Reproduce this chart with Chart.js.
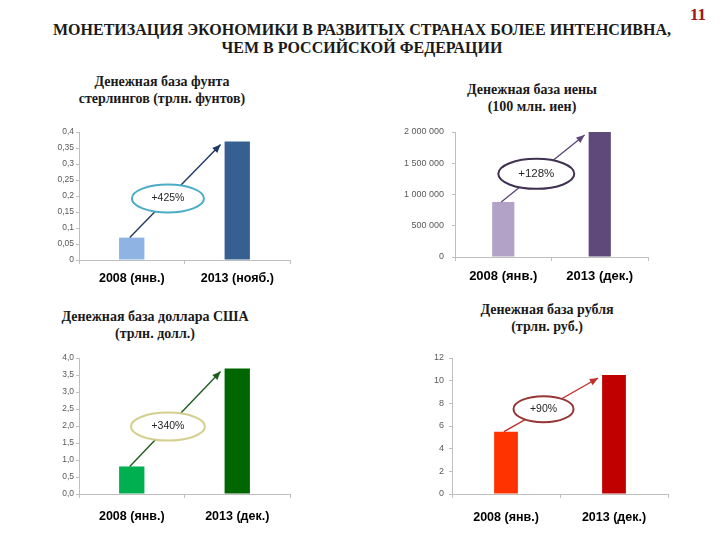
<!DOCTYPE html>
<html>
<head>
<meta charset="utf-8">
<script src="https://cdn.jsdelivr.net/npm/chart.js@4.4.1/dist/chart.umd.min.js"></script>
<style>
  body { margin: 0; background: #fff; }
  #page { position: relative; width: 720px; height: 540px; overflow: hidden; font-family: "Liberation Serif", "Times New Roman", serif; }
  .title { position: absolute; text-align: center; font-weight: bold; color: #1a1a1a; font-size: 14px; line-height: 17px; white-space: nowrap; }
  #head { left: 0; width: 724px; top: 21px; font-size: 16px; line-height: 18px; }
  #num { position: absolute; left: 690px; top: 5px; font-weight: bold; font-size: 17px; color: #a01818; }
  canvas { position: absolute; }
</style>
</head>
<body>
<div id="page">
  <div id="num">11</div>
  <div class="title" id="head">МОНЕТИЗАЦИЯ ЭКОНОМИКИ В РАЗВИТЫХ СТРАНАХ БОЛЕЕ ИНТЕНСИВНА,<br>ЧЕМ В РОССИЙСКОЙ ФЕДЕРАЦИИ</div>

  <div class="title" style="left:62px;width:200px;top:73px">Денежная база фунта<br>стерлингов (трлн. фунтов)</div>
  <div class="title" style="left:432px;width:200px;top:81px">Денежная база иены<br>(100 млн. иен)</div>
  <div class="title" style="left:55px;width:200px;top:308px">Денежная база доллара США<br>(трлн. долл.)</div>
  <div class="title" style="left:447px;width:200px;top:301px">Денежная база рубля<br>(трлн. руб.)</div>

  <canvas id="gbp" style="left:39px;top:110px" width="261" height="181"></canvas>
  <canvas id="jpy" style="left:395px;top:110px" width="261" height="178"></canvas>
  <canvas id="usd" style="left:39px;top:337px" width="261" height="191"></canvas>
  <canvas id="rub" style="left:412px;top:338px" width="264" height="192"></canvas>
</div>

<script>
// ---- data ----
const periodsGbp = ['2008 (янв.)', '2013 (нояб.)'];
const periods = ['2008 (янв.)', '2013 (дек.)'];

const gbpBase = [0.07, 0.37];
const jpyBase = [880000, 2000000];
const usdBase = [0.81, 3.69];
const rubBase = [5.5, 10.5];

const gbpTicks = [0, 0.05, 0.1, 0.15, 0.2, 0.25, 0.3, 0.35, 0.4];
const gbpTickLabels = ['0', '0,05', '0,1', '0,15', '0,2', '0,25', '0,3', '0,35', '0,4'];
const jpyTicks = [0, 500000, 1000000, 1500000, 2000000];
const jpyTickLabels = ['0', '500 000', '1 000 000', '1 500 000', '2 000 000'];
const usdTicks = [0, 0.5, 1, 1.5, 2, 2.5, 3, 3.5, 4];
const usdTickLabels = ['0,0', '0,5', '1,0', '1,5', '2,0', '2,5', '3,0', '3,5', '4,0'];
const rubTicks = [0, 2, 4, 6, 8, 10, 12];
const rubTickLabels = ['0', '2', '4', '6', '8', '10', '12'];

const growth = ['+425%', '+128%', '+340%', '+90%'];

// ---- arrow + ellipse drawn between the two bars ----
const growthPlugin = {
  id: 'growth',
  afterDatasetsDraw(chart, args, o) {
    const bars = chart.getDatasetMeta(0).data;
    const b1 = bars[0], b2 = bars[1];
    const x0 = b1.x - 2, y0 = b1.y;
    const x1 = b2.x - b2.width / 2 - 4, y1 = b2.y + 3;
    const ctx = chart.ctx;
    ctx.save();
    ctx.strokeStyle = o.arrow;
    ctx.fillStyle = o.arrow;
    ctx.lineWidth = 1.4;
    ctx.beginPath();
    ctx.moveTo(x0, y0);
    ctx.lineTo(x1, y1);
    ctx.stroke();
    const a = Math.atan2(y1 - y0, x1 - x0), h = 9;
    ctx.beginPath();
    ctx.moveTo(x1, y1);
    ctx.lineTo(x1 - h * Math.cos(a - 0.4), y1 - h * Math.sin(a - 0.4));
    ctx.lineTo(x1 - h * Math.cos(a + 0.4), y1 - h * Math.sin(a + 0.4));
    ctx.closePath();
    ctx.fill();

    const cx = x0 + (x1 - x0) * 0.42, cy = y0 + (y1 - y0) * 0.42;
    ctx.beginPath();
    ctx.ellipse(cx, cy, o.rx, o.ry, 0, 0, Math.PI * 2);
    ctx.fillStyle = '#fff';
    ctx.fill();
    ctx.lineWidth = 2;
    ctx.strokeStyle = o.ring;
    ctx.stroke();
    ctx.fillStyle = '#262626';
    ctx.font = o.font + 'px "Liberation Sans"';
    ctx.textAlign = 'center';
    ctx.textBaseline = 'middle';
    ctx.fillText(o.text, cx, cy);
    ctx.restore();
  }
};

function makeChart(id, c) {
  new Chart(document.getElementById(id), {
    type: 'bar',
    data: {
      labels: c.labels,
      datasets: [{
        data: c.values,
        backgroundColor: c.colors,
        barPercentage: c.barPct,
        categoryPercentage: 1
      }]
    },
    options: {
      responsive: false,
      animation: false,
      layout: { padding: c.pad },
      plugins: {
        legend: { display: false },
        tooltip: { enabled: false },
        growth: c.growth
      },
      scales: {
        x: {
          offset: true,
          grid: { drawOnChartArea: false, tickLength: 4, color: '#bfbfbf', offset: true },
          border: { color: '#bfbfbf' },
          ticks: {
            color: '#000',
            padding: c.xPad,
            font: { family: 'Liberation Sans', size: c.xFont, weight: 'bold' }
          },
          afterFit(s) { s.height = c.xh; }
        },
        y: {
          min: 0,
          max: c.ticks[c.ticks.length - 1],
          afterBuildTicks(s) { s.ticks = c.ticks.map(v => ({ value: v })); },
          grid: { drawOnChartArea: false, tickLength: 3, color: '#bfbfbf' },
          border: { color: '#bfbfbf' },
          ticks: {
            color: '#595959',
            padding: c.yPad,
            font: { family: 'Liberation Sans', size: c.yFont },
            callback: (v, i) => c.tickLabels[i]
          },
          afterFit(s) { s.width = c.yw; }
        }
      }
    },
    plugins: [growthPlugin]
  });
}

makeChart('gbp', {
  labels: periodsGbp, values: gbpBase, ticks: gbpTicks, tickLabels: gbpTickLabels,
  colors: ['#8db4e2', '#376092'], barPct: 0.24,
  pad: { left: 0, right: 10, top: 22, bottom: 0 }, yw: 40, xh: 31, xPad: 7, xFont: 12.5, yFont: 8.5, yPad: 2,
  growth: { text: growth[0], arrow: '#1f3864', ring: '#4bacc6', rx: 36, ry: 14, font: 10.5 }
});

makeChart('jpy', {
  labels: periods, values: jpyBase, ticks: jpyTicks, tickLabels: jpyTickLabels,
  colors: ['#b3a2c7', '#5f497a'], barPct: 0.23,
  pad: { left: 0, right: 8, top: 22, bottom: 0 }, yw: 60, xh: 31, xPad: 8, xFont: 13, yFont: 9, yPad: 8,
  growth: { text: growth[1], arrow: '#5f497a', ring: '#403152', rx: 38, ry: 15, font: 11.5 }
});

makeChart('usd', {
  labels: periods, values: usdBase, ticks: usdTicks, tickLabels: usdTickLabels,
  colors: ['#00b050', '#006600'], barPct: 0.24,
  pad: { left: 0, right: 10, top: 21, bottom: 0 }, yw: 40, xh: 34, xPad: 11, xFont: 12.5, yFont: 8.5, yPad: 2,
  growth: { text: growth[2], arrow: '#1e5c1e', ring: '#d4cf8e', rx: 37, ry: 14, font: 10.5 }
});

makeChart('rub', {
  labels: periods, values: rubBase, ticks: rubTicks, tickLabels: rubTickLabels,
  colors: ['#ff3300', '#c00000'], barPct: 0.22,
  pad: { left: 0, right: 8, top: 20, bottom: 0 }, yw: 40, xh: 36, xPad: 12, xFont: 12.5, yFont: 9, yPad: 5,
  growth: { text: growth[3], arrow: '#c0302c', ring: '#953735', rx: 30, ry: 13, font: 10.5 }
});
</script>
</body>
</html>
